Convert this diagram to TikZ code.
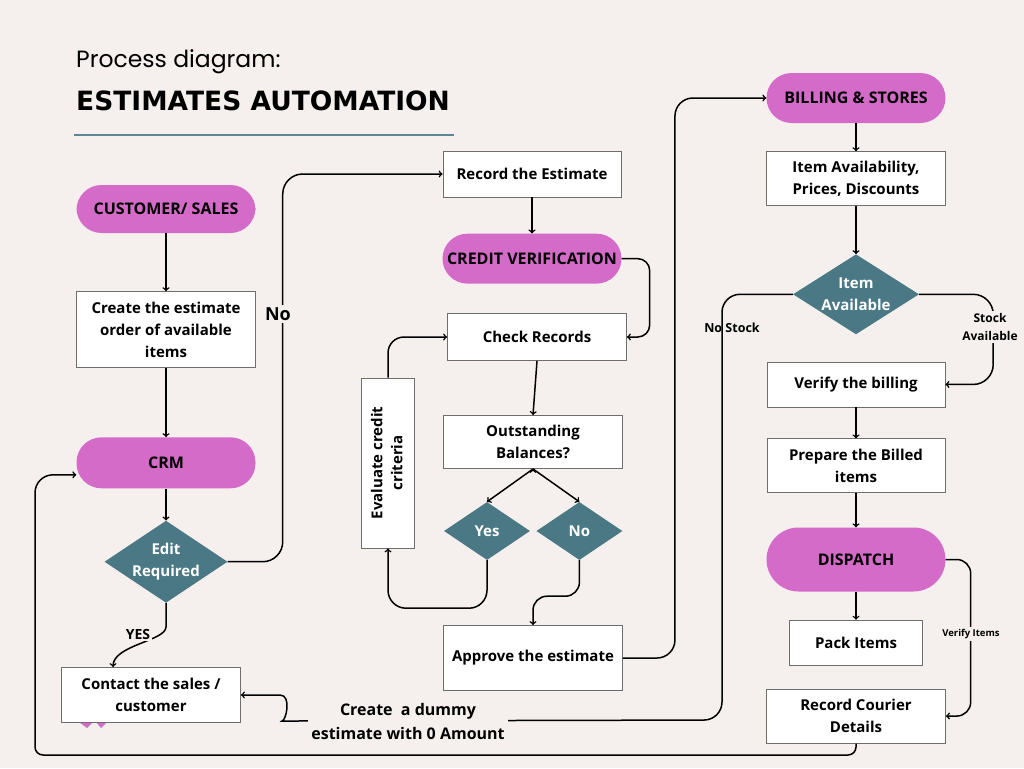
\documentclass[tikz,border=0pt]{standalone}
\usepackage{fontspec}
\setmainfont{Open Sans}
\newfontfamily\titlefont{Poppins}
\newfontfamily\headfont{DejaVu Sans}
\usetikzlibrary{shapes.geometric,arrows}
\usetikzlibrary{positioning}

\definecolor{pagebg}{HTML}{F5F0EE}
\definecolor{pillpink}{HTML}{D46BC8}
\definecolor{diateal}{HTML}{4A7985}
\definecolor{boxgray}{HTML}{6E6E6E}
\definecolor{rulecol}{HTML}{5F8593}

\tikzset{
  pill/.style={rectangle, rounded corners=25pt, fill=pillpink, minimum width=179pt,
    minimum height=50pt, font=\bfseries\fontsize{16}{20}\selectfont},
  box/.style={rectangle, draw=boxgray, line width=0.9pt, fill=white, minimum width=179pt,
    align=center, inner sep=2pt, font=\bfseries\fontsize{15}{22}\selectfont},
  decision/.style={diamond, fill=diateal, text=white, aspect=1.5, inner sep=0pt,
    align=center, font=\bfseries\fontsize{15}{22}\selectfont},
  line/.style={draw, line width=1.5pt, ->},
  lbl/.style={fill=pagebg, inner sep=2pt, align=center, font=\bfseries\fontsize{13}{18}\selectfont}
}

\begin{document}
\begin{tikzpicture}[x=1pt, y=-1pt]
  \fill[pagebg] (0,0) rectangle (1024,768);
  \useasboundingbox (0,0) rectangle (1024,768);

  % title
  \node[anchor=west, inner sep=0pt, font=\titlefont\fontsize{23.5}{28}\selectfont] (ttl) at (76,62) {Process diagram:};
  \node[anchor=west, inner sep=0pt, font=\headfont\bfseries\fontsize{26.5}{30}\selectfont] (head) at (76,101) {ESTIMATES AUTOMATION};
  \draw[rulecol, line width=2pt] (74,135) -- (454,135);

  % customer / crm column
  \node[pill, minimum height=48pt] (cust) at (166,209) {CUSTOMER/ SALES};
  \node[box, minimum height=76pt] (create) [below=58pt of cust] {Create the estimate\\order of available\\items};
  \node[pill, minimum height=51pt] (crm) [below=69pt of create] {CRM};
  \node[decision, minimum width=120pt, minimum height=80pt] (edit) [below=32pt of crm] {Edit\\Required};
  \fill[pillpink] (79,722) -- (87,728) -- (93,722) -- cycle;
  \fill[pillpink] (96,722) -- (101,728) -- (107,722) -- cycle;
  \node[box, minimum height=55pt] (contact) at (151,695) {Contact the sales /\\customer};

  % credit column
  \node[box, minimum width=178pt, minimum height=46pt] (record) at (532,174) {Record the Estimate};
  \node[pill] (credit) [below=36pt of record] {CREDIT VERIFICATION};
  \node[box, minimum height=47pt] (check) at (537,337) {Check Records};
  \node[box, minimum height=53pt] (outst) at (533,442) {Outstanding\\Balances?};
  \node[decision, minimum width=86pt, minimum height=58pt] (yes) at (487,531) {Yes};
  \node[decision, minimum width=86pt, minimum height=58pt] (no) [right=6pt of yes] {No};
  \node[box, minimum width=53pt, minimum height=170pt] (eval) at (388,463)
    {\rotatebox{90}{\begin{tabular}{@{}c@{}}Evaluate credit\\[-2pt]criteria\end{tabular}}};
  \node[box, minimum height=65pt] (approve) at (533,658) {Approve the estimate};

  % billing column
  \node[pill] (bill) at (856,98) {BILLING \& STORES};
  \node[box, minimum height=54pt] (avail) [below=28pt of bill] {Item Availability,\\Prices, Discounts};
  \node[decision, minimum width=126pt, minimum height=80pt] (itemq) [below=48pt of avail] {Item\\Available};
  \node[box, minimum width=178pt, minimum height=45pt] (verify) [below=27pt of itemq] {Verify the billing};
  \node[box, minimum width=178pt, minimum height=54pt] (prep) [below=31pt of verify] {Prepare the Billed\\items};
  \node[pill, rounded corners=32pt, minimum height=64pt] (disp) [below=34pt of prep] {DISPATCH};
  \node[box, minimum width=133pt, minimum height=45pt] (pack) [below=28pt of disp] {Pack Items};
  \node[box, minimum height=54pt] (courier) [below=23pt of pack] {Record Courier\\Details};

  \coordinate (nsturn) at (722,720);
  \coordinate (dumL) at (300,721);
  \coordinate (dumC) at ([xshift=39pt]contact.east);
  \coordinate (loopbl) at (35,755);
  \coordinate (crmin) at ([yshift=-12pt]crm.west);

  \path[line]
  (cust) edge (create)
  (create) edge (create |- crm.north)
  (crm) edge (edit)
  (record.south) edge (record.south |- credit.north)
  (check.south) edge (outst.north)
  (outst.south) edge (yes.north)
  (outst.south) edge (no.north)
  (bill) edge (avail)
  (avail) edge (itemq)
  (verify) edge (prep)
  (prep) edge (disp)
  (disp) edge (pack);

  \draw[line] (edit.south) -- ++(0,24) .. controls +(0,14) and +(0,-22) .. ([xshift=-38pt]contact.north);
  \draw[line] (edit.east) [rounded corners=20pt] -- ++(55,0) |- (record.west);
  \draw[line] (credit.east) [rounded corners=12pt] -- ++(28,0) |- (check.east);
  \draw[line] (yes.south) [rounded corners=18pt] -- ++(0,48) -| (eval.south);
  \draw[line] (eval.north) [rounded corners=16pt] |- (check.west);
  \draw[line] (no.south) [rounded corners=14pt] -- ++(0,36) -| (approve.north);
  \draw[line] (approve.east) [rounded corners=18pt] -- ++(52,0) |- (bill.west);
  \draw[line] (itemq.east) [rounded corners=20pt] -- ++(74,0) |- (verify.east);
  \draw[line] (disp.east) [rounded corners=14pt] -- ++(25,0) |- (courier.east);
  \draw[line] (itemq.west) [rounded corners=18pt] -| (nsturn) -- (dumL) [sharp corners]
    .. controls +(-14,0) and +(12,0) .. (dumC) -- (contact.east);
  \draw[line] (courier.south) [rounded corners=8pt] |- (loopbl) [rounded corners=18pt] |- (crmin);

  % labels on connectors
  \node[lbl, font=\bfseries\fontsize{18}{22}\selectfont] (nolbl) at (278,314) {No};
  \node[lbl, font=\bfseries\fontsize{14}{18}\selectfont] (yeslbl) at (138,634) {YES};
  \node[lbl, fill=none, font=\bfseries\fontsize{12.5}{16}\selectfont] (nostock) at (732,328) {No Stock};
  \node[lbl, font=\bfseries\fontsize{12}{18}\selectfont] (stock) at (990,327) {Stock\\Available};
  \node[lbl, font=\fontsize{9.5}{12}\selectfont\bfseries] (verifyit) at (971,634) {Verify Items};
  \node[lbl, inner sep=3pt, font=\bfseries\fontsize{16}{24}\selectfont] (dummy) at (408,721) {Create~ a dummy\\estimate with 0 Amount};
\end{tikzpicture}
\end{document}
